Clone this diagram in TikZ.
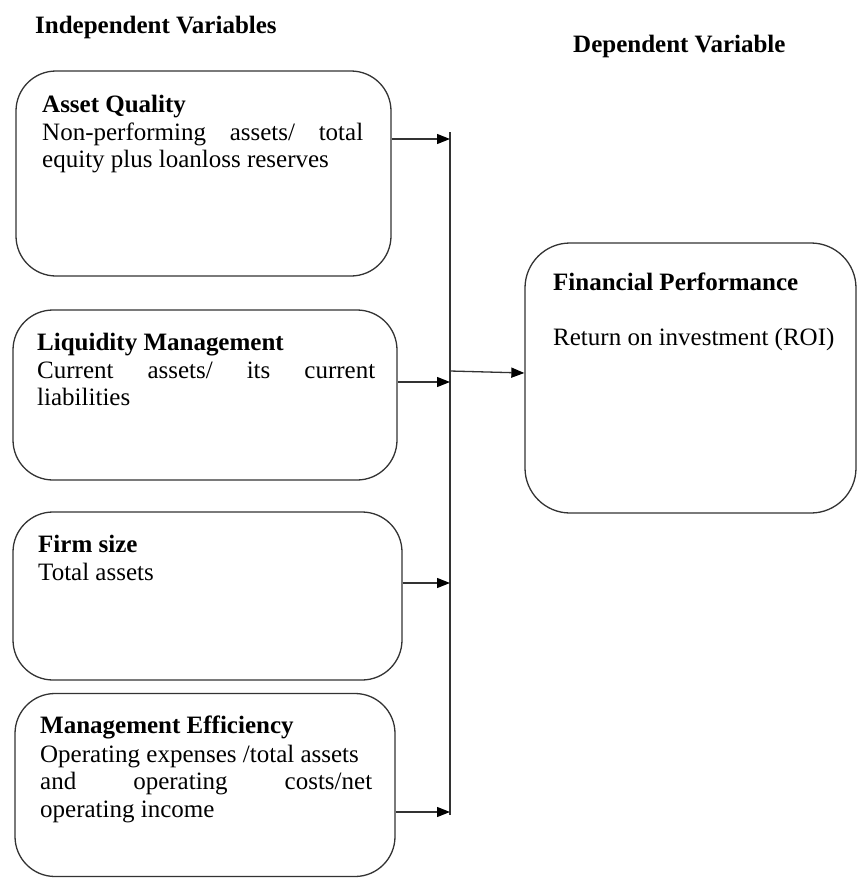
\documentclass[tikz,border=0pt]{standalone}
\usepackage{fontspec}
\setmainfont{Liberation Serif}
\usetikzlibrary{arrows.meta}
\begin{document}
\begin{tikzpicture}[x=1pt,y=-1pt,
  box/.style={draw=black!80,line width=1.3pt,rounded corners=40pt,inner sep=0pt},
  txt/.style={anchor=base west,inner sep=0pt,font=\fontsize{25}{27}\selectfont},
  ttl/.style={anchor=base west,inner sep=0pt,font=\fontsize{25}{27}\selectfont\bfseries},
  ln/.style={draw=black!80,line width=1.3pt},
  arr/.style={ln,-{Triangle[length=13pt,width=10pt,color=black]}}]
\useasboundingbox (0,0) rectangle (858,879);
% headers
\node[ttl] (h1) at (35,33) {Independent Variables};
\node[ttl] (h2) at (573,52) {Dependent Variable};
% boxes
\node[box,minimum width=375pt,minimum height=205pt] (b1) at (203.5,173.5) {};
\node[box,minimum width=384pt,minimum height=170pt] (b2) at (205,395) {};
\node[box,minimum width=389pt,minimum height=168pt] (b3) at (207.5,596) {};
\node[box,minimum width=380pt,minimum height=183pt] (b4) at (205,785) {};
\node[box,minimum width=331pt,minimum height=270pt,rounded corners=45pt] (fin) at (690.5,378) {};
% box 1
\node[ttl] (t1) at (42,112) {Asset Quality};
\node[txt] (d1a) at (42,140) {\hbox to 321pt{Non-performing\hfill assets/\hfill total}};
\node[txt] (d1b) at (42,167) {equity plus loanloss reserves};
% box 2
\node[ttl] (t2) at (37,350) {Liquidity Management};
\node[txt] (d2a) at (37,378) {\hbox to 338pt{Current\hfill assets/\hfill its\hfill current}};
\node[txt] (d2b) at (37,405) {liabilities};
% box 3
\node[ttl] (t3) at (38,552) {Firm size};
\node[txt] (d3) at (38,580) {Total assets};
% box 4
\node[ttl] (t4) at (40,733) {Management Efficiency};
\node[txt] (d4a) at (40,762) {Operating expenses /total assets};
\node[txt] (d4b) at (40,789) {\hbox to 332pt{and\hfill operating\hfill costs/net}};
\node[txt] (d4c) at (40,817) {operating income};
% financial box
\node[ttl] (t5) at (553,290) {Financial Performance};
\node[txt] (d5) at (553,345) {Return on investment (ROI)};
% connectors
\coordinate (vt) at (450,132);
\coordinate (vb) at (450,815);
\draw[ln] (vt) -- (vb);
\coordinate (a1) at (450,139);
\coordinate (a2) at (450,382);
\coordinate (a3) at (450,583);
\coordinate (a4) at (450,812);
\draw[arr] (b1.east |- a1) -- (a1);
\draw[arr] (b2.east |- a2) -- (a2);
\draw[arr] (b3.east |- a3) -- (a3);
\draw[arr] (b4.east |- a4) -- (a4);
\coordinate (o1) at (450,371);
\coordinate (o2) at (525,373);
\draw[arr] (o1) -- (fin.west |- o2);
\end{tikzpicture}
\end{document}
